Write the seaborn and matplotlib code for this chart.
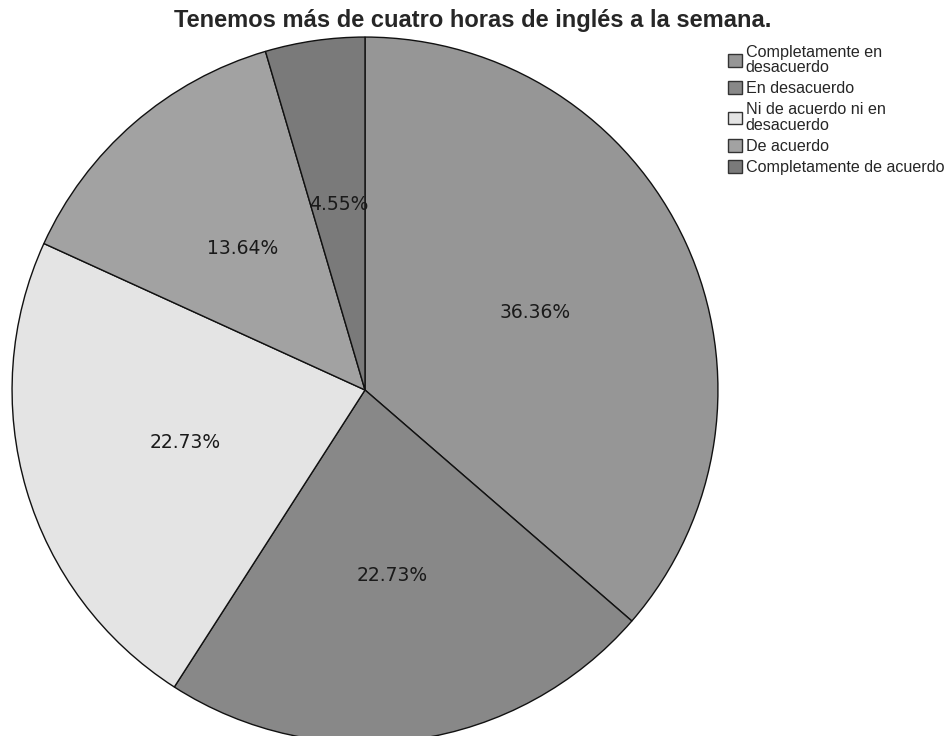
import matplotlib
matplotlib.use("Agg")
import matplotlib.pyplot as plt
from matplotlib.patches import Patch
import seaborn as sns

# data (clockwise from 12 o'clock)
categories = [
    "Completamente en\ndesacuerdo",
    "En desacuerdo",
    "Ni de acuerdo ni en\ndesacuerdo",
    "De acuerdo",
    "Completamente de acuerdo",
]
percents = [36.36, 22.73, 22.73, 13.64, 4.55]
colors = ["#969696", "#888888", "#e4e4e4", "#a2a2a2", "#7a7a7a"]
title = "Tenemos más de cuatro horas de inglés a la semana."

sns.set_theme(style="white")
plt.rcParams["font.family"] = ["DejaVu Sans"]

W, H = 944, 736
fig = plt.figure(figsize=(W / 100, H / 100), dpi=100)

# pie centre and radius in pixels
cx, cy, r = 365, 390, 354
ax = fig.add_axes([(cx - r) / W, (H - cy - r) / H, 2 * r / W, 2 * r / H])

wedges, texts = ax.pie(
    percents,
    colors=colors,
    startangle=90,
    counterclock=False,
    labels=[f"{p:.2f}%" for p in percents],
    labeldistance=0.53,
    wedgeprops=dict(edgecolor="#111111", linewidth=1.0),
    textprops=dict(fontsize=13.5, color="#1a1a1a"),
)
for t in texts:
    t.set_horizontalalignment("center")
    t.set_verticalalignment("center")
ax.set_xlim(-1.003, 1.003)
ax.set_ylim(-1.003, 1.003)
ax.set_aspect("auto")
ax.axis("off")

fig.text(473 / W, 1 - 20 / H, title, ha="center", va="center",
         fontsize=17, fontweight="bold", family=["Liberation Sans", "DejaVu Sans"])

handles = [Patch(facecolor=c, edgecolor="#333333", linewidth=1.0) for c in colors]
leg = fig.legend(
    handles, categories,
    loc="upper left",
    bbox_to_anchor=(728 / W, 1 - 45 / H),
    frameon=False,
    prop={"family": ["Liberation Sans", "DejaVu Sans"], "size": 11.6},
    handlelength=0.85,
    handleheight=0.85,
    handletextpad=0.25,
    labelspacing=0.38,
    borderaxespad=0,
    borderpad=0,
)
for t in leg.get_texts():
    t.set_linespacing(1.02)

fig.savefig("out.png", dpi=100, facecolor="white")
